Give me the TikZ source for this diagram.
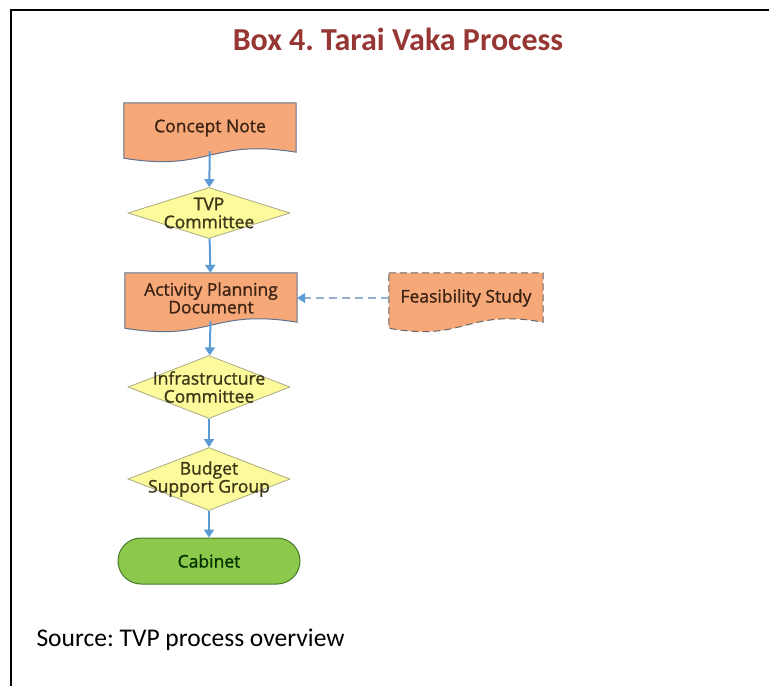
\documentclass[tikz,border=0pt]{standalone}
\usepackage{fontspec}
\setmainfont{Carlito}
\newfontfamily\boxfont[FakeBold=1.2]{Open Sans}
\usepackage{xcolor}
\usetikzlibrary{positioning,arrows.meta,shapes.geometric,backgrounds,calc}
\definecolor{boxred}{RGB}{150,55,52}
\definecolor{docfill}{RGB}{246,168,120}
\definecolor{docline}{RGB}{95,115,145}
\definecolor{doctext}{RGB}{60,35,20}
\definecolor{decfill}{RGB}{252,250,155}
\definecolor{decline}{RGB}{170,170,130}
\definecolor{dectext}{RGB}{60,55,25}
\definecolor{cabfill}{RGB}{140,200,75}
\definecolor{cabline}{RGB}{70,120,45}
\definecolor{flowblue}{RGB}{91,155,213}
\definecolor{dashblue}{RGB}{150,175,205}
\newcommand\docshape[2]{%
  \filldraw[fill=docfill, draw=docline, line width=1pt, #1]
    (#2.north west) -- (#2.north east) -- ($(#2.south east)+(0,-1)$)
    .. controls ($(#2.south)+(0,-15)$) and ($(#2.south)+(0,19)$) ..
    ($(#2.south west)+(0,5)$) -- cycle;}
\frenchspacing

\begin{document}
\begin{tikzpicture}[x=1pt, y=-1pt, >={Triangle[width=10pt,length=8pt]},
    docbox/.style={minimum width=172pt, minimum height=50pt, inner sep=2pt,
      align=center, font=\boxfont\fontsize{17.5}{16}\selectfont, text=doctext},
    decision/.style={diamond, draw=decline, fill=decfill, line width=0.8pt,
      minimum width=162pt, minimum height=63pt, inner sep=0pt},
    dectext/.style={align=center, font=\boxfont\fontsize{17.5}{18}\selectfont, text=dectext},
    flow/.style={->, flowblue, line width=2pt}]
  \useasboundingbox (0,0) rectangle (769,686);
  \draw[line width=2.5pt] (11,686) -- (11,10) -- (769,10);
  \node[anchor=base, font=\bfseries\fontsize{32}{36}\selectfont, text=boxred]
    (title) at (398,50) {Box 4. Tarai Vaka Process};

  \node[docbox] (cn) at (210,128) {Concept Note};
  \node[decision, minimum height=51pt, label={[dectext]center:TVP\\Committee}] (tvp) at (209,213) {};
  \node[docbox] (apd) at (211,298) {Activity Planning\\Document};
  \node[docbox, minimum width=154pt] (fs) at (466,298) {Feasibility Study};
  \node[decision, label={[dectext]center:Infrastructure\\Committee}] (ic) at (209,387) {};
  \node[decision, label={[dectext]center:Budget\\Support Group}] (bsg) at (209,479) {};
  \node[draw=cabline, fill=cabfill, line width=1pt, rounded corners=23pt,
    minimum width=182pt, minimum height=46pt, font=\boxfont\fontsize{17.5}{18}\selectfont,
    text=black!80!green] (cab) at (209,561) {Cabinet};

  \begin{scope}[on background layer]
    \docshape{}{cn}
    \docshape{}{apd}
    \docshape{draw=black!60, dash pattern=on 7pt off 4pt}{fs}
  \end{scope}

  \draw[flow, shorten <=-2pt] (cn) -- (tvp);
  \draw[flow] (tvp) -- (apd);
  \draw[flow, shorten <=-2pt] (apd) -- (ic);
  \draw[flow] (ic) -- (bsg);
  \draw[flow] (bsg) -- (cab);
  \draw[-{Triangle[width=10pt,length=8pt,fill=flowblue,color=flowblue]}, dashblue,
    line width=1.5pt, dash pattern=on 8pt off 5pt] (fs) -- (apd);

  \node[anchor=base west, font=\fontsize{25.5}{30}\selectfont] (src) at (33,646)
    {Source: TVP process overview};
\end{tikzpicture}
\end{document}
